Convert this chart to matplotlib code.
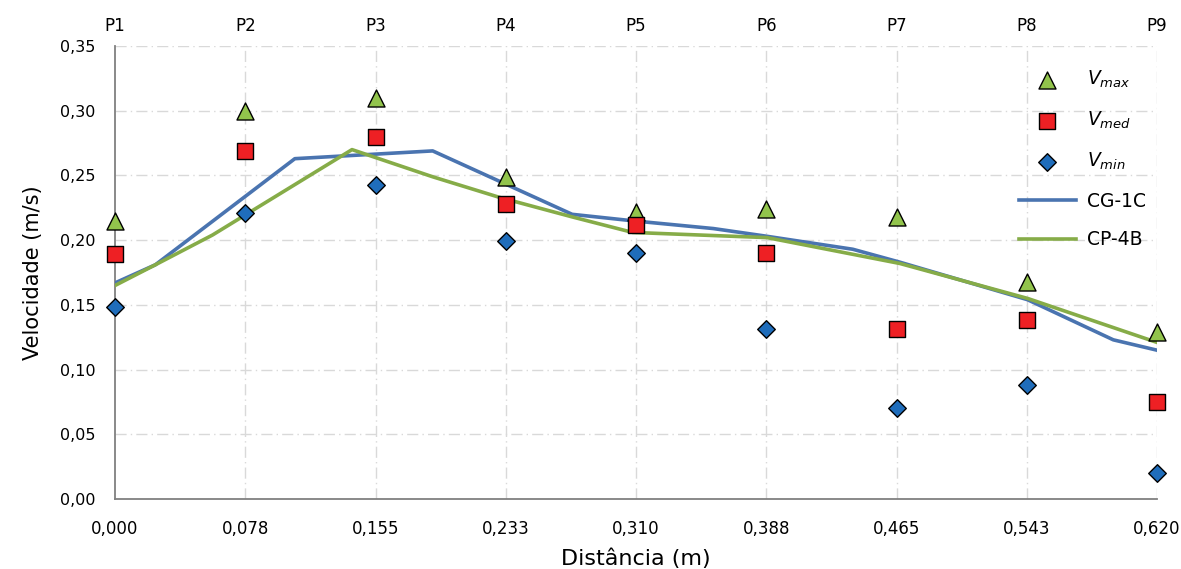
import numpy as np
import matplotlib.pyplot as plt
from matplotlib.ticker import FuncFormatter

# measuring points
points = ['P1', 'P2', 'P3', 'P4', 'P5', 'P6', 'P7', 'P8', 'P9']
dist = [0.0, 0.0775, 0.155, 0.2325, 0.31, 0.3875, 0.465, 0.5425, 0.62]
tick_labels = ['0,000', '0,078', '0,155', '0,233', '0,310', '0,388', '0,465', '0,543', '0,620']

v_max = [0.215, 0.300, 0.310, 0.249, 0.222, 0.224, 0.218, 0.168, 0.129]
v_med = [0.189, 0.269, 0.280, 0.228, 0.212, 0.190, 0.131, 0.138, 0.075]
v_min = [0.148, 0.221, 0.243, 0.199, 0.190, 0.131, 0.070, 0.088, 0.020]

# simulated profiles
cg_x = [0.0, 0.024, 0.107, 0.189, 0.272, 0.308, 0.356, 0.388, 0.439, 0.467, 0.543, 0.594, 0.620]
cg_y = [0.167, 0.181, 0.263, 0.269, 0.220, 0.215, 0.209, 0.203, 0.193, 0.183, 0.154, 0.123, 0.115]
cp_x = [0.0, 0.024, 0.058, 0.141, 0.189, 0.229, 0.272, 0.308, 0.388, 0.467, 0.543, 0.620]
cp_y = [0.165, 0.181, 0.204, 0.270, 0.249, 0.233, 0.218, 0.206, 0.202, 0.182, 0.155, 0.121]

fig = plt.figure(figsize=(11.81, 5.69), dpi=100)
ax = fig.add_axes([0.0974, 0.123, 0.8823, 0.796])

grid_kw = dict(color='#d9d9d9', linestyle=(0, (8, 3, 1, 3)), linewidth=1.0)
for d in dist[1:]:
    ax.axvline(d, zorder=0, **grid_kw)
for v in np.arange(0.05, 0.351, 0.05):
    ax.axhline(v, zorder=0, **grid_kw)

ax.scatter(dist, v_max, marker='^', s=150, c='#92c44c', edgecolors='black', linewidths=1,
           zorder=4, clip_on=False, label='$V_{max}$')
ax.scatter(dist, v_med, marker='s', s=130, c='#ee2024', edgecolors='black', linewidths=1,
           zorder=4, clip_on=False, label='$V_{med}$')
ax.scatter(dist, v_min, marker='D', s=80, c='#1f6dbb', edgecolors='black', linewidths=1,
           zorder=4, clip_on=False, label='$V_{min}$')
ax.plot(cg_x, cg_y, color='#4a74b0', linewidth=2.6, zorder=3, label='CG-1C')
ax.plot(cp_x, cp_y, color='#86ac48', linewidth=2.6, zorder=3, label='CP-4B')

ax.set_xlim(0, 0.62)
ax.set_ylim(0, 0.35)
ax.set_xticks(dist)
ax.set_xticklabels(tick_labels, fontsize=12)
ax.set_yticks(np.arange(0, 0.351, 0.05))
ax.yaxis.set_major_formatter(FuncFormatter(lambda v, p: f'{v:.2f}'.replace('.', ',')))
ax.tick_params(axis='y', length=0, pad=14, labelsize=11.5)
ax.tick_params(axis='x', length=0, pad=15)

for s in ['top', 'right']:
    ax.spines[s].set_visible(False)
for s in ['left', 'bottom']:
    ax.spines[s].set_color('#808080')
    ax.spines[s].set_linewidth(1.3)

ax.set_xlabel('Distância (m)', fontsize=16, labelpad=8)
ax.set_ylabel('Velocidade (m/s)', fontsize=15, labelpad=12)

top = ax.secondary_xaxis('top')
top.set_xticks(dist)
top.set_xticklabels(points, fontsize=12)
top.tick_params(length=0, pad=8)
top.spines['top'].set_visible(False)

ax.legend(loc='upper right', bbox_to_anchor=(1.0, 0.975), frameon=False, fontsize=13.5,
          labelspacing=1.05, handlelength=3.0, handletextpad=0.6, borderaxespad=0.2)

fig.savefig('out.png', dpi=100)
